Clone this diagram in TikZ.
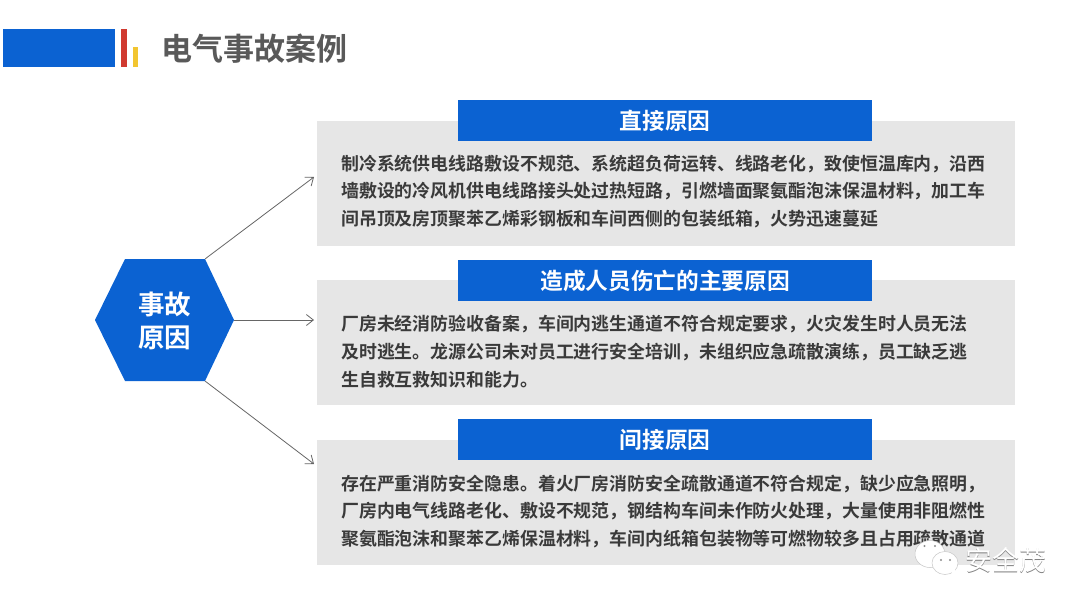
\documentclass[tikz,border=0pt]{standalone}
\usepackage{fontspec}
\usetikzlibrary{arrows.meta}
\setmainfont{Noto Sans CJK SC}[BoldFont={Noto Sans CJK SC Bold}]
\newfontfamily\cjkb{Noto Sans CJK SC Bold}
\definecolor{mainblue}{HTML}{0B62D2}
\definecolor{panelgray}{HTML}{E6E6E6}
\definecolor{bodytxt}{HTML}{3A3A3A}
\definecolor{titletxt}{HTML}{595959}
\definecolor{barred}{HTML}{D03A30}
\definecolor{baryellow}{HTML}{F2C530}
\newcommand{\headlift}[1]{\raisebox{-2pt}{#1}}
\tikzset{
  panel/.style={fill=panelgray,draw=none,anchor=north west,minimum width=698pt,minimum height=125pt,inner sep=0pt},
  head/.style={fill=mainblue,anchor=north west,minimum width=414pt,minimum height=41pt,inner sep=0pt,text=white,font=\fontsize{22.7}{25}\selectfont\cjkb},
  body/.style={anchor=west,inner sep=0pt,text=bodytxt,font=\fontsize{17.9}{20}\selectfont\cjkb},
  link/.style={draw=black!60,line width=0.8pt,-{Straight Barb[length=7pt,width=11pt,line width=0.8pt]}},
  wm/.style={inner sep=0pt,font=\fontsize{27}{30}\selectfont},
  bubble/.style={fill=white,draw=black!22,line width=0.5pt}
}
\begin{document}
\begin{tikzpicture}[x=1pt,y=-1pt]
\useasboundingbox[fill=white] (0,0) rectangle (1080,608);
\fill[mainblue] (3,29) rectangle (115,67);
\fill[barred] (120.5,29) rectangle (127,67);
\fill[baryellow] (133,47) rectangle (138,67);
\node[anchor=west,inner sep=0pt,text=titletxt,font=\fontsize{31}{34}\selectfont\cjkb] (title) at (161.5,49) {电气事故案例};

\fill[mainblue] (95,320) -- (125,259) -- (205,259) -- (234,320) -- (205,381) -- (125,381) -- cycle;
\coordinate (hexTR) at (205,259);
\coordinate (hexR) at (234,320);
\coordinate (hexBR) at (205,381);
\node[align=center,text=white,inner sep=0pt,font=\fontsize{26.5}{32.5}\selectfont\cjkb] (hex) at (164.5,321) {事故\\原因};

\node[panel] (p1) at (317,121) {};
\node[panel] (p2) at (317,280) {};
\node[panel] (p3) at (317,440) {};
\node[head] (h1) at (458,100) {\headlift{直接原因}};
\node[head] (h2) at (458,260) {\headlift{造成人员伤亡的主要原因}};
\node[head] (h3) at (458,419) {\headlift{间接原因}};

\node[body] (a1) at (341,164) {制冷系统供电线路敷设不规范、系统超负荷运转、线路老化，致使恒温库内，沿西};
\node[body] (a2) at (341,191) {墙敷设的冷风机供电线路接头处过热短路，引燃墙面聚氨酯泡沫保温材料，加工车};
\node[body] (a3) at (341,219) {间吊顶及房顶聚苯乙烯彩钢板和车间西侧的包装纸箱，火势迅速蔓延};
\node[body] (b1) at (341,324) {厂房未经消防验收备案，车间内逃生通道不符合规定要求，火灾发生时人员无法};
\node[body] (b2) at (341,352) {及时逃生。龙源公司未对员工进行安全培训，未组织应急疏散演练，员工缺乏逃};
\node[body] (b3) at (341,380) {生自救互救知识和能力。};
\node[body] (c1) at (341,484) {存在严重消防安全隐患。着火厂房消防安全疏散通道不符合规定，缺少应急照明，};
\node[body] (c2) at (341,511) {厂房内电气线路老化、敷设不规范，钢结构车间未作防火处理，大量使用非阻燃性};
\node[body] (c3) at (341,539) {聚氨酯泡沫和聚苯乙烯保温材料，车间内纸箱包装物等可燃物较多且占用疏散通道};

\coordinate (e1) at (314,177);
\coordinate (e2) at (314,320);
\coordinate (e3) at (314,464);
\draw[link] (hexTR) -- (e1);
\draw[link] (hexR) -- (e2);
\draw[link] (hexBR) -- (e3);

% watermark
\fill[white] (922,560) -- (921,567) -- (929,564) -- cycle;
\draw[bubble] (930,554) ellipse (15pt and 13.5pt);
\draw[bubble] (945,563) ellipse (13pt and 11.5pt);
\fill[white] (950,570) -- (954,576) -- (956,565) -- cycle;
\fill[black!45] (924.5,546) circle (1.2pt) (935,546) circle (1.2pt) (941,560) circle (1.1pt) (950,560) circle (1.1pt);
\node[wm,text=black!50] (wm1) at (1005.6,560.6) {安全茂};
\node[wm,text=white] (wm2) at (1006,560) {安全茂};
\end{tikzpicture}
\end{document}
